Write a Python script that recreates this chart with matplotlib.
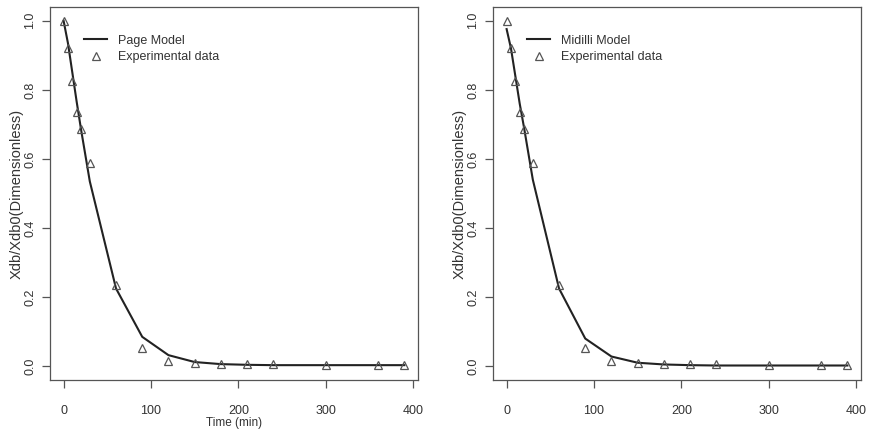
import matplotlib
matplotlib.use("Agg")
import matplotlib.pyplot as plt

# data
time_min = [0, 5, 10, 15, 20, 30, 60, 90, 120, 150, 180, 210, 240, 300, 360, 390]
exp_data = [1.0, 0.921, 0.827, 0.737, 0.687, 0.589, 0.234, 0.054, 0.014, 0.009, 0.007,
            0.006, 0.005, 0.004, 0.003, 0.003]
page_model = [1.0, 0.935, 0.85, 0.765, 0.685, 0.535, 0.225, 0.085, 0.032, 0.012, 0.006,
              0.004, 0.003, 0.003, 0.003, 0.003]
midilli_model = [0.976, 0.92, 0.84, 0.76, 0.69, 0.54, 0.225, 0.08, 0.028, 0.01, 0.005,
                 0.003, 0.002, 0.002, 0.002, 0.002]

plt.rcParams['font.family'] = ['Liberation Sans', 'DejaVu Sans']
plt.rcParams['font.size'] = 9

text_col = '#333333'
edge_col = '#555555'

fig = plt.figure(figsize=(8.69, 4.29), dpi=100)
ax1 = fig.add_axes([0.0575, 0.1142, 0.4235, 0.8695])
ax2 = fig.add_axes([0.5673, 0.1142, 0.4235, 0.8695])

panels = [(ax1, page_model, 'Page Model', True),
          (ax2, midilli_model, 'Midilli Model', False)]

for ax, model, name, show_xlabel in panels:
    ax.plot(time_min, model, color='#222222', lw=1.5, label=name)
    ax.plot(time_min, exp_data, ls='none', marker='^', ms=6, mfc='none',
            mec='#555555', mew=0.9, label='Experimental data')
    ax.set_xlim(-15.6, 405.6)
    ax.set_ylim(-0.04, 1.04)
    ax.set_xticks([0, 100, 200, 300, 400])
    ax.set_yticks([0.0, 0.2, 0.4, 0.6, 0.8, 1.0])
    ax.set_yticklabels(['0.0', '0.2', '0.4', '0.6', '0.8', '1.0'], rotation=90, va='center')
    ax.tick_params(direction='out', length=6, width=0.9, colors=edge_col,
                   labelcolor=text_col, labelsize=9)
    ax.tick_params(axis='x', pad=12)
    ax.tick_params(axis='y', pad=4)
    for s in ax.spines.values():
        s.set_color(edge_col)
        s.set_linewidth(0.9)
    ax.set_ylabel('Xdb/Xdb0(Dimensionless)', color=text_col, fontsize=10.5, labelpad=0)
    if show_xlabel:
        ax.set_xlabel('Time (min)', color=text_col, fontsize=8.5, labelpad=0)
    leg = ax.legend(loc='upper left', bbox_to_anchor=(0.062, 0.956), frameon=False,
                    handlelength=1.85, handletextpad=0.9, labelspacing=0.35, fontsize=9)
    for t in leg.get_texts():
        t.set_color(text_col)

fig.savefig('out.png', dpi=100)
